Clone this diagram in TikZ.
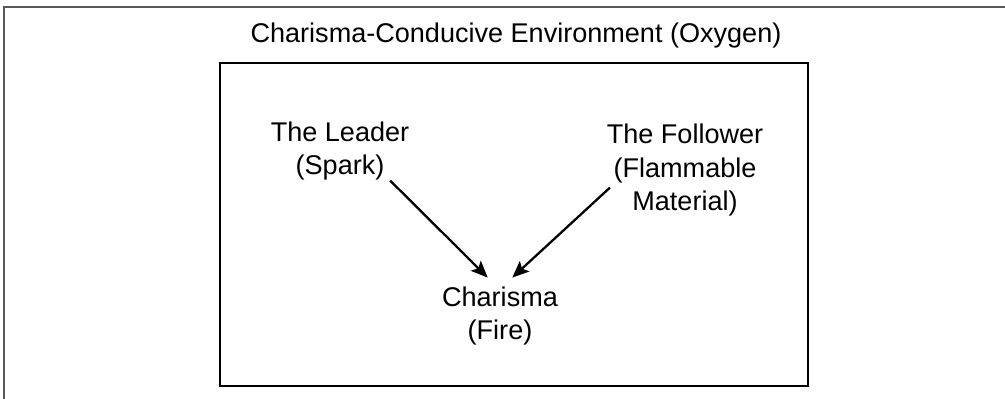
\documentclass[tikz,border=0pt]{standalone}
\usepackage{fontspec}
\setmainfont{Liberation Sans}
\usepackage{tikz}
\usetikzlibrary{arrows.meta}

\begin{document}
\begin{tikzpicture}[x=0.02cm, y=-0.02cm,
    label/.style={inner sep=0pt, align=center, font=\fontsize{15.4pt}{19pt}\selectfont},
    feeds/.style={line width=1.3pt, -{Stealth[length=9.5pt, width=8pt, inset=2pt]}}]
\useasboundingbox (0,0) rectangle (1005,399);
\draw[color=black!65, line width=1.1pt] (4,399) -- (4,7) -- (1005,7);
\draw[line width=1.4pt] (220,63) rectangle (808,386);

\node[label, anchor=base] (env) at (516,42) {Charisma-Conducive Environment (Oxygen)};
\node[label] (leader) at (340,151) {The Leader\\(Spark)};
\node[label] (follower) at (685,170) {The Follower\\(Flammable\\Material)};
\node[label] (charisma) at (500,316) {Charisma\\(Fire)};

\draw[feeds] ([xshift=-11pt]leader.south east) -- ([xshift=-7pt, yshift=5pt]charisma.north);
\draw[feeds] ([xshift=2pt, yshift=-10pt]follower.west) -- ([xshift=7pt, yshift=5pt]charisma.north);
\end{tikzpicture}
\end{document}
